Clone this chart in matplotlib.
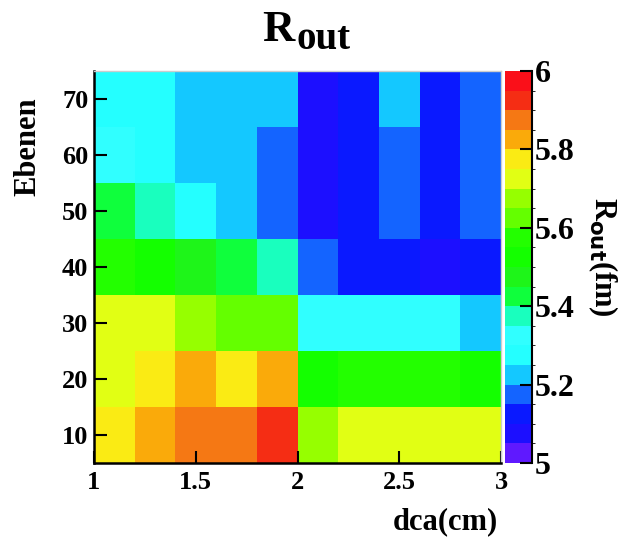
import numpy as np
import matplotlib
matplotlib.use("Agg")
import matplotlib.pyplot as plt
from matplotlib.colors import ListedColormap, BoundaryNorm

# ---- data ----
x_edges = [1.0, 1.2, 1.4, 1.6, 1.8, 2.0, 2.2, 2.4, 2.6, 2.8, 3.0]
y_edges = [5, 15, 25, 35, 45, 55, 65, 75]
row_10 = [5.78, 5.83, 5.87, 5.87, 5.92, 5.68, 5.72, 5.72, 5.72, 5.72]
row_20 = [5.72, 5.78, 5.83, 5.78, 5.83, 5.52, 5.57, 5.57, 5.57, 5.52]
row_30 = [5.72, 5.72, 5.68, 5.62, 5.62, 5.33, 5.33, 5.33, 5.33, 5.22]
row_40 = [5.57, 5.52, 5.47, 5.43, 5.38, 5.17, 5.12, 5.12, 5.07, 5.12]
row_50 = [5.43, 5.38, 5.28, 5.22, 5.17, 5.07, 5.12, 5.17, 5.12, 5.17]
row_60 = [5.33, 5.28, 5.22, 5.22, 5.17, 5.07, 5.12, 5.17, 5.12, 5.17]
row_70 = [5.28, 5.28, 5.22, 5.22, 5.22, 5.07, 5.12, 5.22, 5.12, 5.17]
x_ticks = [1, 1.5, 2, 2.5, 3]
x_tick_labels = ["1", "1.5", "2", "2.5", "3"]
y_ticks = [10, 20, 30, 40, 50, 60, 70]
z_ticks = [5, 5.2, 5.4, 5.6, 5.8, 6]
z_tick_labels = ["5", "5.2", "5.4", "5.6", "5.8", "6"]

palette = [
    (95, 25, 255), (28, 15, 255), (10, 25, 255), (20, 100, 255), (20, 200, 255),
    (36, 255, 255), (48, 255, 255), (25, 255, 190), (15, 255, 60), (30, 245, 25),
    (20, 255, 0), (35, 255, 0), (100, 255, 0), (150, 255, 0), (225, 255, 20),
    (250, 235, 20), (250, 170, 10), (245, 120, 20), (245, 45, 20), (250, 15, 25),
]

Z = np.array([row_10, row_20, row_30, row_40, row_50, row_60, row_70])

plt.rcParams['font.family'] = ['Liberation Serif', 'DejaVu Serif']
plt.rcParams['font.weight'] = 'bold'

W, H = 627, 546
fig = plt.figure(figsize=(W / 100, H / 100), dpi=100)

def fx(px):
    return px / W

def fy(py):
    return 1 - py / H

ax = fig.add_axes([fx(94), fy(463), fx(501) - fx(94), fy(71) - fy(463)])
cmap = ListedColormap([tuple(c / 255 for c in col) for col in palette])
levels = np.linspace(5, 6, 21)
norm = BoundaryNorm(levels, cmap.N)
mesh = ax.pcolormesh(x_edges, y_edges, Z, cmap=cmap, norm=norm)
ax.set_xlim(1, 3)
ax.set_ylim(5, 75)
ax.set_xticks(x_ticks)
ax.set_xticklabels(x_tick_labels)
ax.set_yticks(y_ticks)
ax.tick_params(axis='both', direction='in', length=9, width=1.5, labelsize=19)
ax.tick_params(axis='x', pad=6)
ax.tick_params(axis='y', pad=4)
for s in ['left', 'bottom']:
    ax.spines[s].set_linewidth(1.8)
    ax.spines[s].set_color('black')
for s in ['top', 'right']:
    ax.spines[s].set_linewidth(1.0)
    ax.spines[s].set_color('#cccccc')

cax = fig.add_axes([fx(505), fy(463), fx(532) - fx(505), fy(71) - fy(463)])
cb = fig.colorbar(mesh, cax=cax, ticks=z_ticks)
cb.set_ticklabels(z_tick_labels)
cb.outline.set_visible(False)
cax.tick_params(axis='y', direction='in', length=9, width=1.5, labelsize=23, pad=2)
cax.plot([1, 1], [0, 1], transform=cax.transAxes, color='black', lw=1.5, clip_on=False)

# title R_out
fig.text(fx(262), fy(41), "R", fontsize=32, fontweight='bold', ha='left', va='baseline')
fig.text(fx(296), fy(49), "out", fontsize=28, fontweight='bold', ha='left', va='baseline')

fig.text(fx(28), fy(147), "Ebenen", fontsize=22, fontweight='bold', rotation=90, ha='center', va='center')
fig.text(fx(445), fy(522), "dca(cm)", fontsize=22, fontweight='bold', ha='center', va='center')
fig.text(fx(603), fy(257), r"R$_{\mathbf{out}}$(fm)", fontsize=22, fontweight='bold', rotation=-90,
         ha='center', va='center')

fig.savefig("out.png", dpi=100)
